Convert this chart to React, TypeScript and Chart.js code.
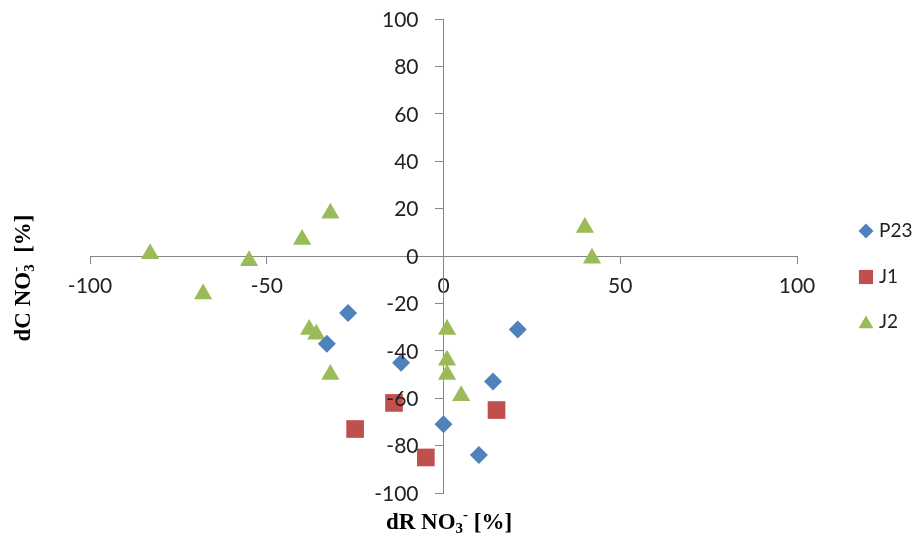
import React, { useEffect, useRef } from "react";
import { Chart, registerables } from "chart.js";

Chart.register(...registerables);

const seriesNames = ["P23", "J1", "J2"];
const seriesColors = ["#4F81BD", "#C0504D", "#9BBB59"];
const seriesShapes = ["rectRot", "rect", "triangle"];
const seriesRadius = [9, 12.5, 10.5];

const p23X = [-27, -33, -12, 0, 10, 14, 21];
const p23Y = [-24, -37, -45, -71, -84, -53, -31];
const j1X = [-14, -25, -5, 15];
const j1Y = [-62, -73, -85, -65];
const j2X = [-83, -68, -55, -40, -32, -38, -36, -32, 1, 1, 1, 5, 40, 42];
const j2Y = [1, -16, -2, 7, 18, -31, -33, -50, -31, -44, -50, -59, 12, -1];

const xTicks = [-100, -50, 0, 50, 100];
const yTicks = [-100, -80, -60, -40, -20, 0, 20, 40, 60, 80, 100];

const xTitle = [
  { t: "dR NO", k: "n" },
  { t: "3", k: "sub" },
  { t: "-", k: "sup" },
  { t: " [%]", k: "n" },
];
const yTitle = [
  { t: "dC NO", k: "n" },
  { t: "3", k: "sub" },
  { t: "-", k: "supstack" },
  { t: "  [%]", k: "n" },
];

const TICK_FONT = "Lato";
const TITLE_FONT = "'Liberation Serif'";

function toPoints(xs: number[], ys: number[]) {
  return xs.map((x, i) => ({ x, y: ys[i] }));
}

function drawRich(ctx: CanvasRenderingContext2D, segs: { t: string; k: string }[], cx: number, baseY: number) {
  const big = "bold 23px " + TITLE_FONT;
  const small = "bold 15px " + TITLE_FONT;
  let total = 0;
  let lastW = 0;
  for (const s of segs) {
    ctx.font = s.k === "n" ? big : small;
    const w = ctx.measureText(s.t).width;
    if (s.k === "supstack") {
      total += Math.max(0, w - lastW);
    } else total += w;
    lastW = w;
  }
  let x = cx - total / 2;
  let prevX = x;
  lastW = 0;
  ctx.textBaseline = "alphabetic";
  ctx.textAlign = "left";
  for (const s of segs) {
    ctx.font = s.k === "n" ? big : small;
    const w = ctx.measureText(s.t).width;
    if (s.k === "supstack") {
      ctx.fillText(s.t, prevX, baseY - 10);
      x = prevX + Math.max(w, lastW);
    } else {
      const dy = s.k === "sub" ? 4 : s.k === "sup" ? -10 : 0;
      ctx.fillText(s.t, x, baseY + dy);
      prevX = x;
      x += w;
    }
    lastW = w;
  }
}

function drawMarker(ctx: CanvasRenderingContext2D, shape: string, x: number, y: number, r: number) {
  ctx.beginPath();
  if (shape === "rectRot") {
    ctx.moveTo(x - r, y);
    ctx.lineTo(x, y - r);
    ctx.lineTo(x + r, y);
    ctx.lineTo(x, y + r);
  } else if (shape === "rect") {
    const s = r * Math.SQRT1_2;
    ctx.rect(x - s, y - s, 2 * s, 2 * s);
  } else {
    ctx.moveTo(x, y - r);
    ctx.lineTo(x + r * 0.866, y + r / 2);
    ctx.lineTo(x - r * 0.866, y + r / 2);
  }
  ctx.closePath();
  ctx.fill();
}

const overlay = {
  id: "overlay",
  afterDraw(chart: any) {
    const ctx: CanvasRenderingContext2D = chart.ctx;
    const xs = chart.scales.x;
    const ys = chart.scales.y;
    ctx.save();
    // y tick labels
    ctx.fillStyle = "#222";
    ctx.font = "21px " + TICK_FONT;
    ctx.textAlign = "right";
    ctx.textBaseline = "middle";
    const axisX = xs.getPixelForValue(0);
    yTicks.forEach((v) => {
      ctx.fillText(String(v), axisX - 25, ys.getPixelForValue(v) + 1);
    });
    // titles
    ctx.fillStyle = "#000";
    drawRich(ctx, xTitle, 449, 529);
    ctx.save();
    ctx.translate(30, 278);
    ctx.rotate(-Math.PI / 2);
    drawRich(ctx, yTitle, 0, 0);
    ctx.restore();
    // legend
    const ly = [231, 277, 322];
    const legendR = [7.5, 10, 8.5];
    seriesNames.forEach((name, i) => {
      ctx.fillStyle = seriesColors[i];
      drawMarker(ctx, seriesShapes[i], 866, ly[i] + (i === 2 ? 2 : 0), legendR[i]);
      ctx.fillStyle = "#222";
      ctx.font = "19px " + TICK_FONT;
      ctx.textBaseline = "middle";
      ctx.textAlign = "left";
      ctx.fillText(name, 879, ly[i]);
    });
    ctx.restore();
  },
};

export default function App() {
  const ref = useRef<HTMLCanvasElement | null>(null);
  useEffect(() => {
    if (!ref.current) return;
    const xs = [p23X, j1X, j2X];
    const ysArr = [p23Y, j1Y, j2Y];
    const chart = new Chart(ref.current, {
      type: "scatter",
      data: {
        datasets: seriesNames.map((name, i) => ({
          label: name,
          data: toPoints(xs[i], ysArr[i]),
          pointStyle: seriesShapes[i] as any,
          pointRadius: seriesRadius[i],
          pointHoverRadius: seriesRadius[i],
          backgroundColor: seriesColors[i],
          borderColor: seriesColors[i],
          borderWidth: 0,
          showLine: false,
        })),
      },
      options: {
        animation: false,
        responsive: false,
        devicePixelRatio: 1,
        layout: { padding: { left: 90, right: 120, top: 19, bottom: 43 } },
        plugins: { legend: { display: false }, tooltip: { enabled: false } },
        scales: {
          x: {
            type: "linear",
            min: -100,
            max: 100,
            position: { y: 0 } as any,
            afterBuildTicks: (s: any) => {
              s.ticks = xTicks.map((v) => ({ value: v }));
            },
            ticks: { color: "#222", font: { family: TICK_FONT, size: 21 }, padding: 11, maxRotation: 0, autoSkip: false },
            grid: { drawOnChartArea: false, drawTicks: true, tickLength: 7, color: "#868686", lineWidth: 1 },
            border: { display: true, color: "#868686", width: 1 },
          },
          y: {
            type: "linear",
            min: -100,
            max: 100,
            position: { x: 0 } as any,
            afterBuildTicks: (s: any) => {
              s.ticks = yTicks.map((v) => ({ value: v }));
            },
            ticks: { display: false, autoSkip: false },
            grid: { drawOnChartArea: false, drawTicks: true, tickLength: 8, color: "#868686", lineWidth: 1 },
            border: { display: true, color: "#868686", width: 1 },
          },
        },
      },
      plugins: [overlay],
    });
    return () => chart.destroy();
  }, []);
  return (
    <div style={{ position: "absolute", left: 0, top: 0, width: 917, height: 536, background: "#fff" }}>
      <canvas ref={ref} width={917} height={536} style={{ width: 917, height: 536, display: "block" }} />
    </div>
  );
}
